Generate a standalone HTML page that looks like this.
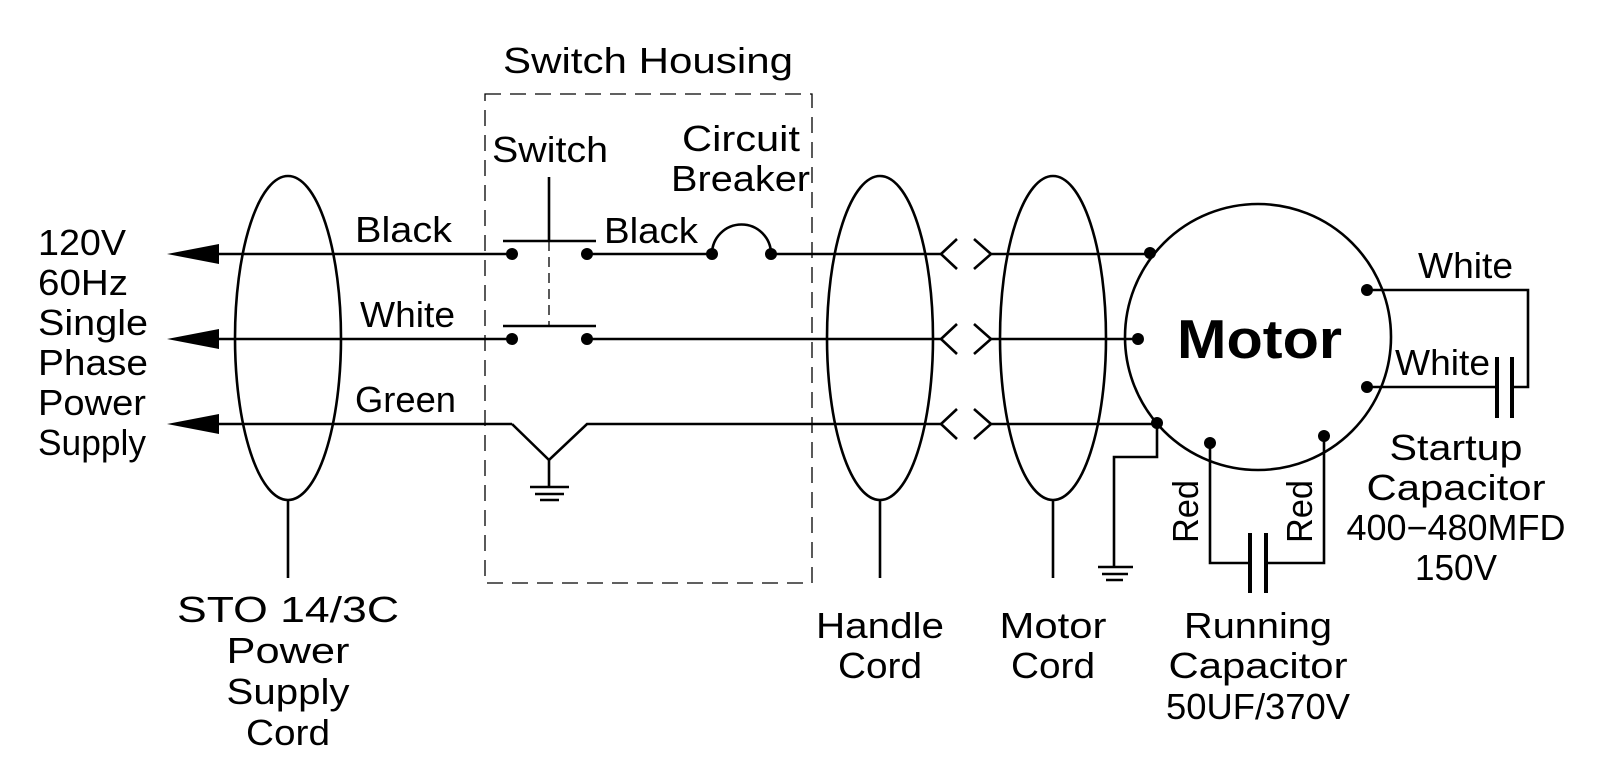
<!DOCTYPE html>
<html><head><meta charset="utf-8"><style>
html,body{margin:0;padding:0;background:#fff;}
svg{display:block;}
text{font-family:"Liberation Sans",sans-serif;fill:#000;}
</style></head><body>
<svg width="1600" height="762" viewBox="0 0 1600 762" xmlns="http://www.w3.org/2000/svg">
<g stroke="#000" stroke-width="2.6" fill="none">
<rect x="485" y="94" width="327" height="489" stroke-width="1.3" stroke-dasharray="16,9"/>
<ellipse cx="288" cy="338" rx="53" ry="162"/>
<ellipse cx="880" cy="338" rx="53" ry="162"/>
<ellipse cx="1053" cy="338" rx="53" ry="162"/>
<line x1="288" y1="500" x2="288" y2="578"/>
<line x1="880" y1="500" x2="880" y2="578"/>
<line x1="1053" y1="500" x2="1053" y2="578"/>
<line x1="210" y1="254" x2="512" y2="254"/>
<line x1="587" y1="254" x2="712" y2="254"/>
<path d="M712 254 A29.5 29.5 0 0 1 771 254"/>
<line x1="771" y1="254" x2="941" y2="254"/>
<line x1="991" y1="254" x2="1150" y2="254"/>
<line x1="210" y1="339" x2="512" y2="339"/>
<line x1="587" y1="339" x2="941" y2="339"/>
<line x1="991" y1="339" x2="1138" y2="339"/>
<line x1="210" y1="424" x2="512" y2="424"/>
<polyline points="512,424 549,460 587,424 941,424"/>
<line x1="991" y1="424" x2="1157" y2="424"/>
<line x1="549" y1="460" x2="549" y2="487"/>
<line x1="530" y1="487" x2="569" y2="487"/>
<line x1="535" y1="494" x2="564" y2="494"/>
<line x1="540" y1="500" x2="559" y2="500"/>
<line x1="503" y1="241" x2="596" y2="241"/>
<line x1="549" y1="177" x2="549" y2="241"/>
<line x1="549" y1="241" x2="549" y2="326" stroke-width="1.3" stroke-dasharray="10,6"/>
<line x1="503" y1="326" x2="596" y2="326"/>
<polyline points="957,239 941,254 957,269"/>
<polyline points="974,239 991,254 974,269"/>
<polyline points="957,324 941,339 957,354"/>
<polyline points="974,324 991,339 974,354"/>
<polyline points="957,409 941,424 957,439"/>
<polyline points="974,409 991,424 974,439"/>
<circle cx="1258" cy="337" r="133"/>
<polyline points="1157,424 1157,457 1114,457 1114,567"/>
<line x1="1098" y1="567" x2="1133" y2="567"/>
<line x1="1102" y1="574" x2="1128" y2="574"/>
<line x1="1106" y1="580" x2="1123" y2="580"/>
<polyline points="1210,443 1210,563 1250,563"/>
<polyline points="1266,563 1324,563 1324,436"/>
<line x1="1250" y1="533" x2="1250" y2="593" stroke-width="4"/>
<line x1="1266" y1="533" x2="1266" y2="593" stroke-width="4"/>
<polyline points="1368,290 1528,290 1528,387 1512,387"/>
<line x1="1368" y1="387" x2="1497" y2="387"/>
<line x1="1497" y1="357" x2="1497" y2="418" stroke-width="4"/>
<line x1="1512" y1="357" x2="1512" y2="418" stroke-width="4"/>
</g>
<g fill="#000">
<polygon points="167,254 219,244 219,264"/>
<polygon points="167,339 219,329 219,349"/>
<polygon points="167,424 219,414 219,434"/>
<circle cx="512" cy="254" r="6"/><circle cx="587" cy="254" r="6"/>
<circle cx="512" cy="339" r="6"/><circle cx="587" cy="339" r="6"/>
<circle cx="712" cy="254" r="6"/><circle cx="771" cy="254" r="6"/>
<circle cx="1150" cy="253" r="6"/><circle cx="1138" cy="339" r="6"/>
<circle cx="1157" cy="423" r="6"/><circle cx="1210" cy="443" r="6"/>
<circle cx="1324" cy="436" r="6"/><circle cx="1367" cy="290" r="6"/>
<circle cx="1367" cy="387" r="6"/>
</g>
<g font-size="36">
<text x="503" y="73" textLength="290" lengthAdjust="spacingAndGlyphs">Switch Housing</text>
<text x="492" y="162" textLength="116" lengthAdjust="spacingAndGlyphs">Switch</text>
<text x="682" y="151" textLength="118" lengthAdjust="spacingAndGlyphs">Circuit</text>
<text x="671" y="191" textLength="139" lengthAdjust="spacingAndGlyphs">Breaker</text>
<text x="604" y="243" textLength="94" lengthAdjust="spacingAndGlyphs">Black</text>
<text x="355" y="242" textLength="97" lengthAdjust="spacingAndGlyphs">Black</text>
<text x="360" y="327" textLength="95" lengthAdjust="spacingAndGlyphs">White</text>
<text x="355" y="412" textLength="101" lengthAdjust="spacingAndGlyphs">Green</text>
<text x="38" y="255" textLength="88" lengthAdjust="spacingAndGlyphs">120V</text>
<text x="38" y="295" textLength="90" lengthAdjust="spacingAndGlyphs">60Hz</text>
<text x="38" y="335" textLength="110" lengthAdjust="spacingAndGlyphs">Single</text>
<text x="38" y="375" textLength="110" lengthAdjust="spacingAndGlyphs">Phase</text>
<text x="38" y="415" textLength="108" lengthAdjust="spacingAndGlyphs">Power</text>
<text x="38" y="455" textLength="108" lengthAdjust="spacingAndGlyphs">Supply</text>
<text x="1418" y="278" textLength="95" lengthAdjust="spacingAndGlyphs">White</text>
<text x="1395" y="375" textLength="95" lengthAdjust="spacingAndGlyphs">White</text>
<g text-anchor="middle" lengthAdjust="spacingAndGlyphs">
<text x="288" y="622" textLength="222" lengthAdjust="spacingAndGlyphs">STO 14/3C</text>
<text x="288" y="663" textLength="123" lengthAdjust="spacingAndGlyphs">Power</text>
<text x="288" y="704" textLength="123" lengthAdjust="spacingAndGlyphs">Supply</text>
<text x="288" y="745" textLength="84" lengthAdjust="spacingAndGlyphs">Cord</text>
<text x="880" y="638" textLength="128" lengthAdjust="spacingAndGlyphs">Handle</text>
<text x="880" y="678" textLength="84" lengthAdjust="spacingAndGlyphs">Cord</text>
<text x="1053" y="638" textLength="107" lengthAdjust="spacingAndGlyphs">Motor</text>
<text x="1053" y="678" textLength="84" lengthAdjust="spacingAndGlyphs">Cord</text>
<text x="1258" y="638" textLength="148" lengthAdjust="spacingAndGlyphs">Running</text>
<text x="1258" y="678" textLength="179" lengthAdjust="spacingAndGlyphs">Capacitor</text>
<text x="1258" y="719" textLength="184" lengthAdjust="spacingAndGlyphs">50UF/370V</text>
<text x="1456" y="460" textLength="133" lengthAdjust="spacingAndGlyphs">Startup</text>
<text x="1456" y="500" textLength="179" lengthAdjust="spacingAndGlyphs">Capacitor</text>
<text x="1456" y="540" textLength="219" lengthAdjust="spacingAndGlyphs">400−480MFD</text>
<text x="1456" y="580" textLength="82" lengthAdjust="spacingAndGlyphs">150V</text>
</g>
<text transform="translate(1198,543) rotate(-90)" textLength="63" lengthAdjust="spacingAndGlyphs">Red</text>
<text transform="translate(1312,543) rotate(-90)" textLength="63" lengthAdjust="spacingAndGlyphs">Red</text>
</g>
<text x="1177" y="358" font-size="55" font-weight="bold" textLength="165" lengthAdjust="spacingAndGlyphs">Motor</text>
</svg>
</body></html>
